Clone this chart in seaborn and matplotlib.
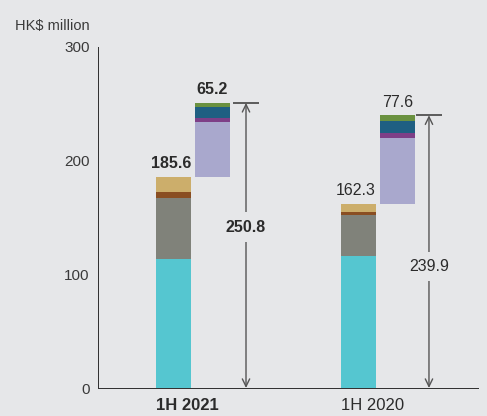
import numpy as np
import pandas as pd
import matplotlib
matplotlib.use("Agg")
import matplotlib.pyplot as plt
import seaborn as sns

# ---- data ----
periods = ["1H 2021", "1H 2020"]
base_colors = ["#55c6d0", "#80827a", "#8a4e22", "#ccae6b"]
float_colors = ["#a9a8cd", "#7e3f87", "#1f5f82", "#6a9140"]
base_2021 = [113.5, 53.9, 5.0, 13.2]
base_2020 = [116.1, 36.1, 2.6, 7.5]
float_2021 = [48.6, 3.3, 9.6, 3.7]
float_2020 = [57.6, 4.4, 10.5, 5.1]
base_totals = [185.6, 162.3]
float_totals = [65.2, 77.6]
grand_totals = [250.8, 239.9]
bold_period = [True, False]
total_label_y = [141.5, 107.0]
yticks = [0, 100, 200, 300]

BG = "#e6e7e9"
TXT = "#2b2b2b"

sns.set_theme(style="white")
plt.rcParams["font.family"] = ["Liberation Sans", "DejaVu Sans"]

fig = plt.figure(figsize=(4.87, 4.16), dpi=100, facecolor=BG)
ax = fig.add_axes([98 / 487, 1 - 388 / 416, (478 - 98) / 487, (388 - 47) / 416])
ax.set_facecolor(BG)

offset = 0.2108
barw = 0.189
pos = [0.0, offset, 1.0, 1.0 + offset]
width_frac = barw / offset

# stacked segments
cum = np.zeros(4)
cum[1] = base_totals[0]
cum[3] = base_totals[1]
for i in range(4):
    heights = np.array([base_2021[i], float_2021[i], base_2020[i], float_2020[i]])
    df = pd.DataFrame({"x": pos, "h": heights})
    sns.barplot(data=df, x="x", y="h", native_scale=True, width=width_frac,
                color=base_colors[i], errorbar=None, ax=ax,
                bottom=cum.copy(), linewidth=0, saturation=1)
    cum = cum + heights

# float bars get float colors
patches = ax.patches
for i in range(4):
    for j in range(4):
        p = patches[i * 4 + j]
        p.set_facecolor(float_colors[i] if j in (1, 3) else base_colors[i])

# value labels
for k in range(2):
    fw = "bold" if bold_period[k] else "normal"
    ax.annotate(f"{base_totals[k]:.1f}", (pos[2 * k], base_totals[k]),
                xytext=(-2, 4), textcoords="offset points", ha="center", va="bottom",
                fontsize=11.5, fontweight=fw, color=TXT)
    ax.annotate(f"{float_totals[k]:.1f}", (pos[2 * k + 1], grand_totals[k]),
                xytext=(0, 4), textcoords="offset points", ha="center", va="bottom",
                fontsize=11.5, fontweight=fw, color=TXT)
    ax_x = k + 0.392 - (0.011 if k == 1 else 0)
    ax.annotate("", xy=(ax_x, grand_totals[k]), xytext=(ax_x, 0),
                arrowprops=dict(arrowstyle="<->,head_length=0.45,head_width=0.22",
                                color="#555555", lw=1.0, shrinkA=0, shrinkB=0))
    ax.plot([ax_x - 0.07, ax_x + 0.07], [grand_totals[k], grand_totals[k]],
            color="#444444", lw=1.2, solid_capstyle="butt")
    ax.text(ax_x, total_label_y[k], f"{grand_totals[k]:.1f}", ha="center", va="center",
            fontsize=11.5, fontweight=fw, color=TXT, zorder=5,
            bbox=dict(boxstyle="square,pad=0.45", facecolor=BG, edgecolor="none"))

ax.set_xlim(-0.408, 1.646)
ax.set_ylim(0, 300)
ax.set_yticks(yticks)
ax.set_yticklabels([str(t) for t in yticks], fontsize=11, color="#3a3a3a")
ax.set_xticks([pos[0] - barw / 2, pos[2] - barw / 2])
ax.set_xticklabels(periods, fontsize=12, color=TXT)
for lab, b in zip(ax.get_xticklabels(), bold_period):
    lab.set_ha("left")
    if b:
        lab.set_fontweight("bold")
ax.tick_params(axis="y", length=0, pad=6)
ax.tick_params(axis="x", length=0, pad=7)
ax.set_xlabel("")
ax.set_ylabel("")
for s in ["top", "right"]:
    ax.spines[s].set_visible(False)
for s in ["left", "bottom"]:
    sp = ax.spines[s]
    sp.set_visible(True)
    sp.set_linewidth(0.75)
    sp.set_linestyle((0, (1.0, 1.0)))
    sp.set_antialiased(False)
    sp.set_color("#333333")
    sp.set_zorder(0.5)

fig.text(90 / 487, 1 - 26 / 416, "HK$ million", ha="right", va="center",
         fontsize=10.5, color="#3a3a3a")

fig.savefig("out.png", dpi=100, facecolor=BG)
